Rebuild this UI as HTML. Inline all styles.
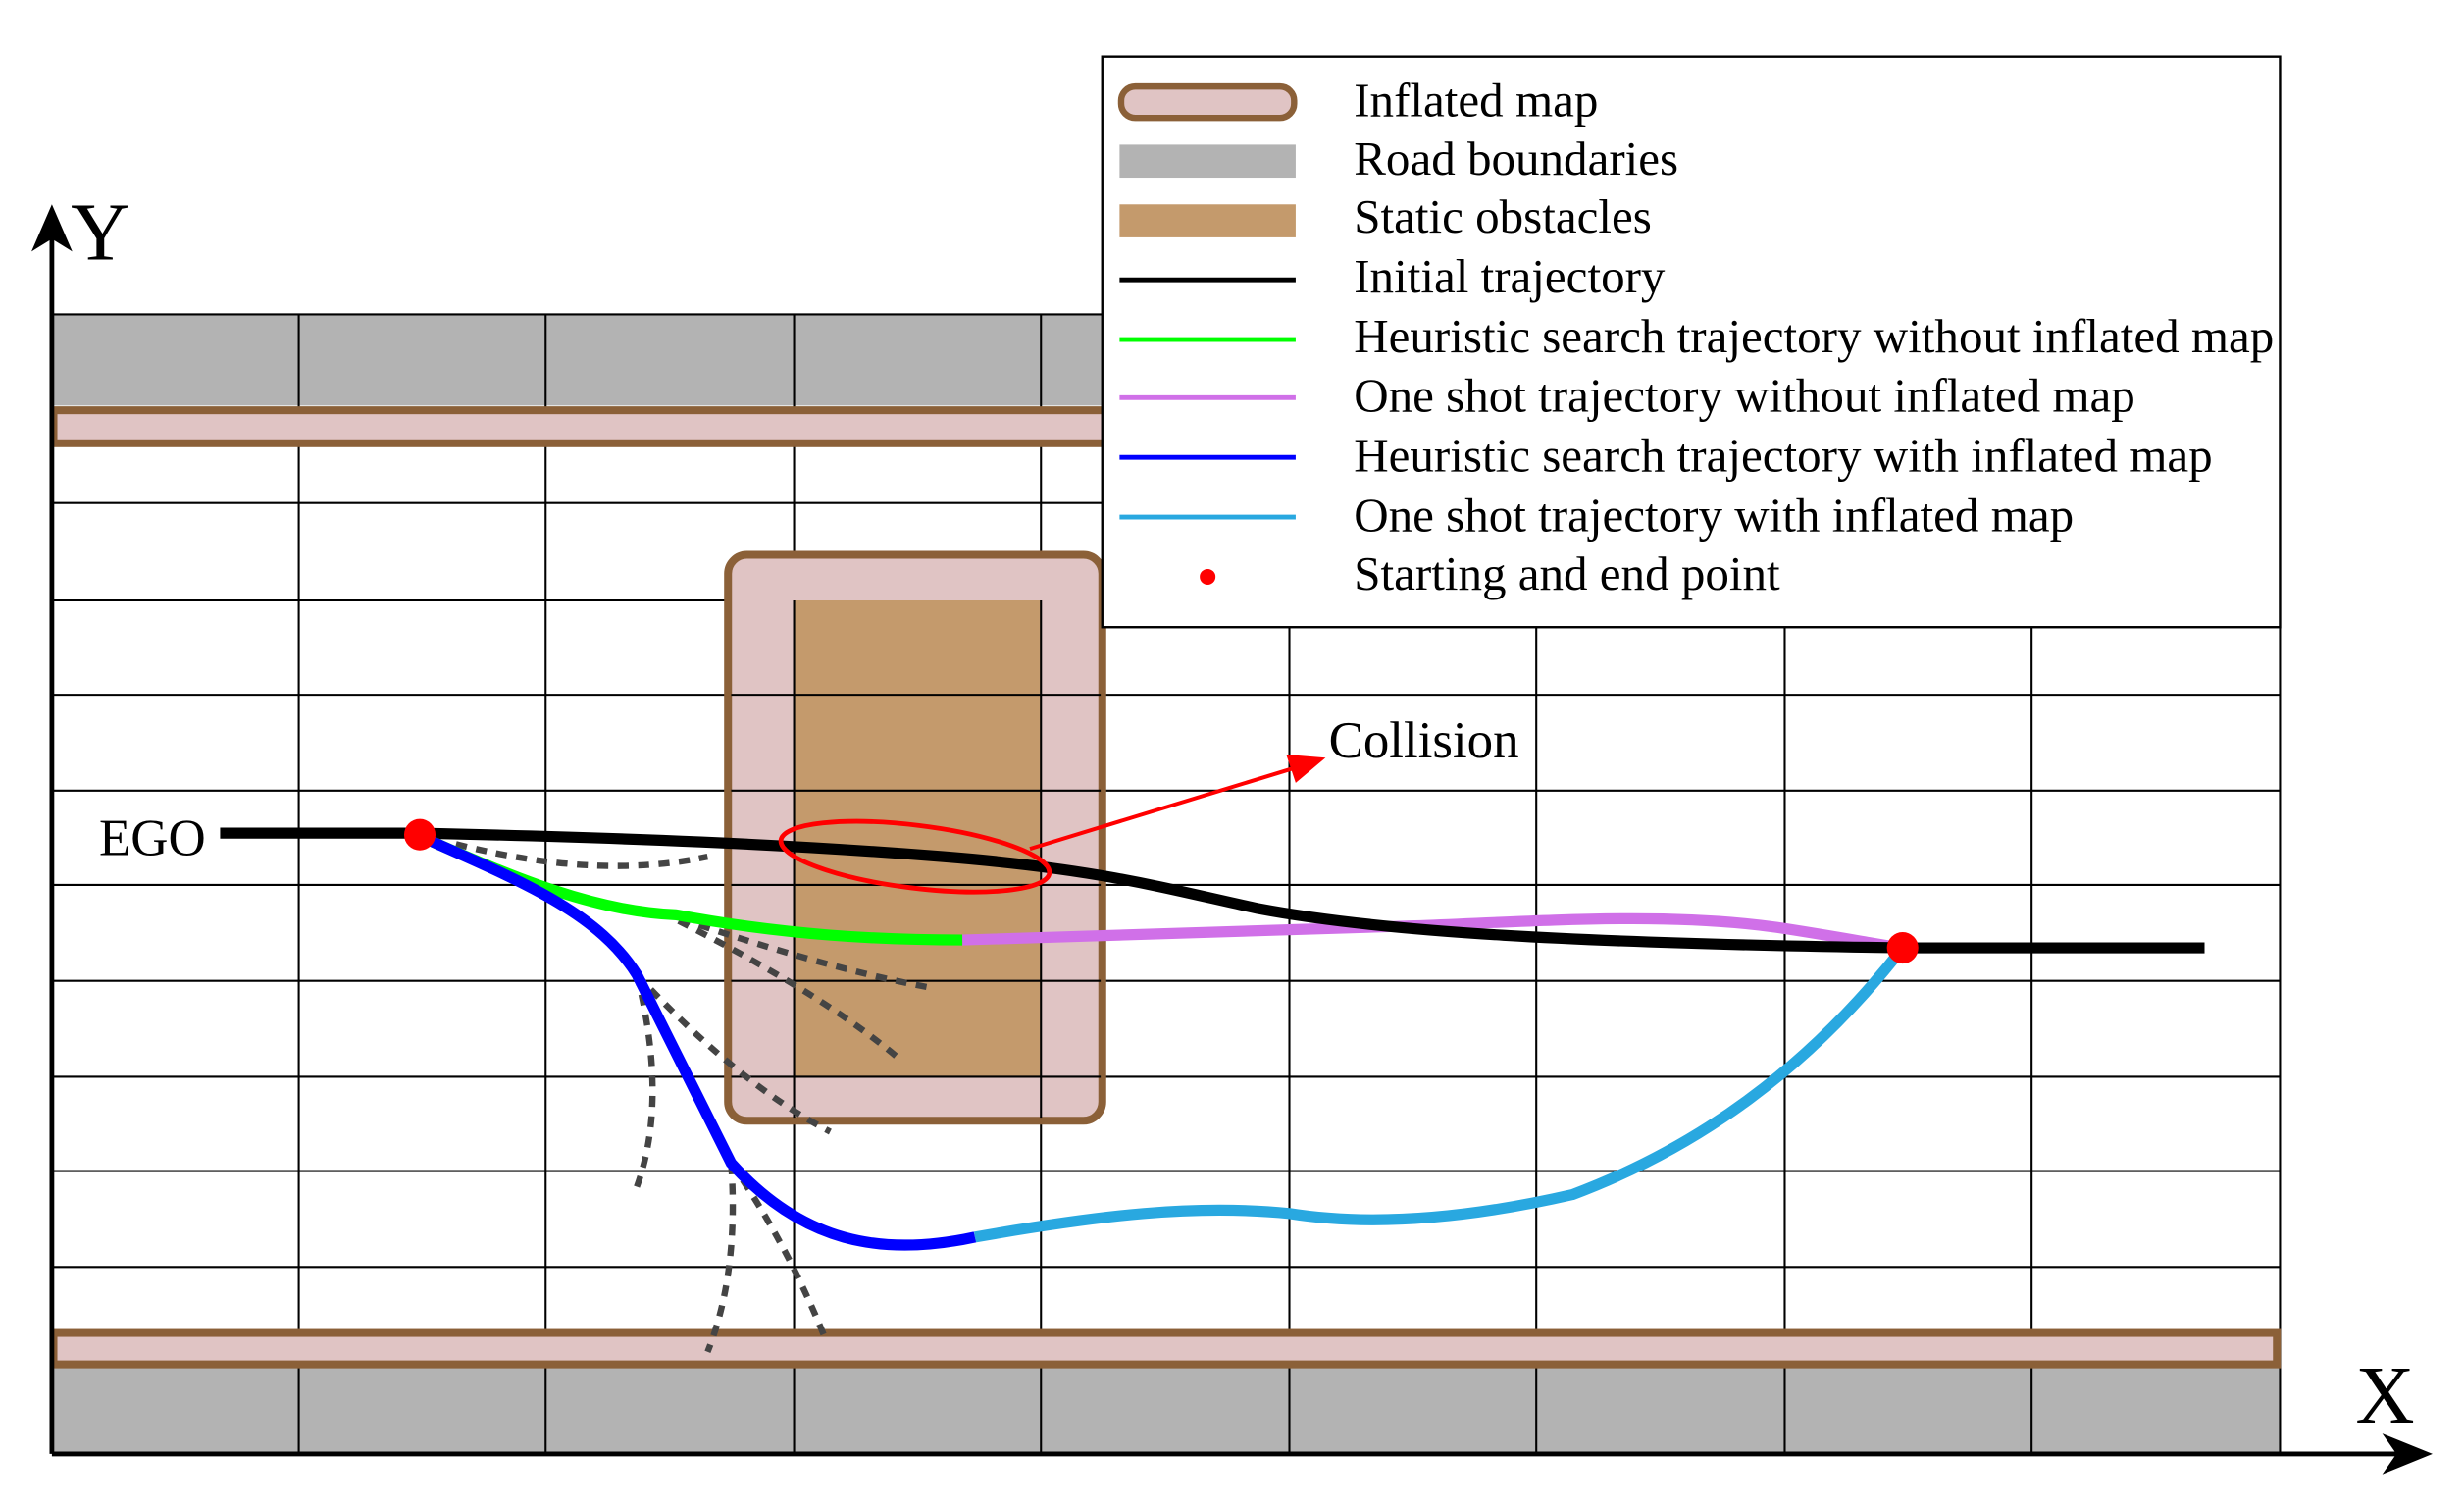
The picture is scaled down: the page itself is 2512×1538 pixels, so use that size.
<!DOCTYPE html>
<html><head><meta charset="utf-8"><style>html,body{margin:0;padding:0;background:#fff}svg{display:block}</style></head>
<body>
<svg width="2512" height="1538" viewBox="0 0 1567 960" preserveAspectRatio="none" xmlns="http://www.w3.org/2000/svg" font-family="Liberation Serif, serif">
<rect x="0" y="0" width="1567" height="960" fill="#fff"/>
<rect x="33" y="200" width="1417" height="58" fill="#b3b3b3"/>
<rect x="33" y="869" width="1417" height="55" fill="#b3b3b3"/>
<g stroke="#000" stroke-width="1.3">
<line x1="190" y1="200" x2="190" y2="924"/><line x1="347" y1="200" x2="347" y2="924"/>
<line x1="505" y1="200" x2="505" y2="924"/><line x1="662" y1="200" x2="662" y2="924"/>
<line x1="820" y1="200" x2="820" y2="924"/><line x1="977" y1="200" x2="977" y2="924"/>
<line x1="1135" y1="200" x2="1135" y2="924"/><line x1="1292" y1="200" x2="1292" y2="924"/>
<line x1="1450" y1="200" x2="1450" y2="924"/>
<line x1="33" y1="200" x2="1450" y2="200"/>
<line x1="33" y1="320" x2="1450" y2="320"/><line x1="33" y1="382" x2="1450" y2="382"/>
<line x1="33" y1="442" x2="1450" y2="442"/><line x1="33" y1="503" x2="1450" y2="503"/>
<line x1="33" y1="563" x2="1450" y2="563"/><line x1="33" y1="624" x2="1450" y2="624"/>
<line x1="33" y1="685" x2="1450" y2="685"/><line x1="33" y1="745" x2="1450" y2="745"/>
<line x1="33" y1="806" x2="1450" y2="806"/>
</g>
<rect x="34" y="261" width="1414" height="21" fill="#e0c4c4" stroke="#8b6038" stroke-width="5"/>
<rect x="34" y="848" width="1414" height="20" fill="#e0c4c4" stroke="#8b6038" stroke-width="5"/>
<rect x="463" y="353" width="238" height="360" rx="12" fill="#e0c4c4" stroke="#8b6038" stroke-width="5"/>
<rect x="505" y="382" width="157" height="303" fill="#c49a6c"/>
<g stroke="#000" stroke-width="1.3"><line x1="505" y1="382" x2="505" y2="711"/><line x1="662" y1="382" x2="662" y2="711"/>
<line x1="465" y1="442" x2="700" y2="442"/><line x1="465" y1="503" x2="700" y2="503"/><line x1="465" y1="563" x2="700" y2="563"/><line x1="465" y1="624" x2="700" y2="624"/><line x1="465" y1="685" x2="700" y2="685"/></g>
<line x1="33" y1="925" x2="33" y2="145" stroke="#000" stroke-width="3"/>
<polygon points="33,130 20,160 33,152 46,160" fill="#000"/>
<line x1="33" y1="925" x2="1530" y2="925" stroke="#000" stroke-width="3"/>
<polygon points="1547,925 1515,912 1524,925 1515,938" fill="#000"/>
<text x="45" y="165" font-size="52">Y</text>
<text x="1498" y="905" font-size="52">X</text>
<g fill="none" stroke="#444" stroke-width="4" stroke-dasharray="7,6">
<path d="M290,537 Q380,560 450,545"/>
<path d="M420,580 Q520,615 590,628"/>
<path d="M420,580 Q520,630 570,672"/>
<path d="M405,620 Q470,690 528,720"/>
<path d="M405,620 Q425,700 405,755"/>
<path d="M465,740 Q470,810 450,860"/>
<path d="M465,740 Q500,790 525,852"/>
</g>
<g fill="none" stroke-width="7" stroke-linecap="butt">
<path d="M612,598 C700,596 800,592 900,589 C980,586 1060,580 1130,590 C1170,596 1200,602 1210,603" stroke="#d070e8"/>
<path d="M620,787 C700,773 760,766 820,772 C870,780 930,776 1000,760 C1080,730 1150,680 1210,603" stroke="#29a8e0"/>
<path d="M140,530 L267,530 C400,533 500,537 600,545 C700,553 740,565 800,578 C880,593 1000,600 1210,603 L1402,603" stroke="#000"/>
<path d="M267,532 C330,560 380,580 430,582 C500,595 560,598 612,598" stroke="#00ff00"/>
<path d="M267,532 C330,560 380,580 405,620 L465,740 C510,790 560,800 620,787" stroke="#0000ff"/>
</g>
<circle cx="267" cy="531" r="10" fill="#ff0000"/>
<circle cx="1210" cy="603" r="10" fill="#ff0000"/>
<ellipse cx="582" cy="545" rx="86" ry="20" transform="rotate(7 582 545)" fill="none" stroke="#ff0000" stroke-width="3"/>
<line x1="655" y1="540" x2="825" y2="488" stroke="#ff0000" stroke-width="2.5"/>
<polygon points="843,482 818,480 824,498" fill="#ff0000"/>
<text x="845" y="482" font-size="33">Collision</text>
<text x="63" y="544" font-size="33">EGO</text>
<rect x="701" y="36" width="749" height="363" fill="#fff" stroke="#000" stroke-width="1.5"/>
<rect x="713" y="55" width="110" height="20" rx="9" fill="#e0c4c4" stroke="#8b6038" stroke-width="4"/>
<rect x="712" y="92" width="112" height="21" fill="#b3b3b3"/>
<rect x="712" y="130" width="112" height="21" fill="#c49a6c"/>
<g stroke-width="3"><line x1="712" y1="178" x2="824" y2="178" stroke="#000"/>
<line x1="712" y1="216" x2="824" y2="216" stroke="#00ff00"/>
<line x1="712" y1="253" x2="824" y2="253" stroke="#d070e8"/>
<line x1="712" y1="291" x2="824" y2="291" stroke="#0000ff"/>
<line x1="712" y1="329" x2="824" y2="329" stroke="#29a8e0"/></g>
<circle cx="768" cy="367" r="5" fill="#ff0000"/>
<g font-size="30.6">
<text x="861" y="74">Inflated map</text>
<text x="861" y="111">Road boundaries</text>
<text x="861" y="148">Static obstacles</text>
<text x="861" y="186">Initial trajectory</text>
<text x="861" y="224">Heuristic search trajectory without inflated map</text>
<text x="861" y="262">One shot trajectory without inflated map</text>
<text x="861" y="300">Heuristic search trajectory with inflated map</text>
<text x="861" y="338">One shot trajectory with inflated map</text>
<text x="861" y="375">Starting and end point</text>
</g>
</svg>
</body></html>
